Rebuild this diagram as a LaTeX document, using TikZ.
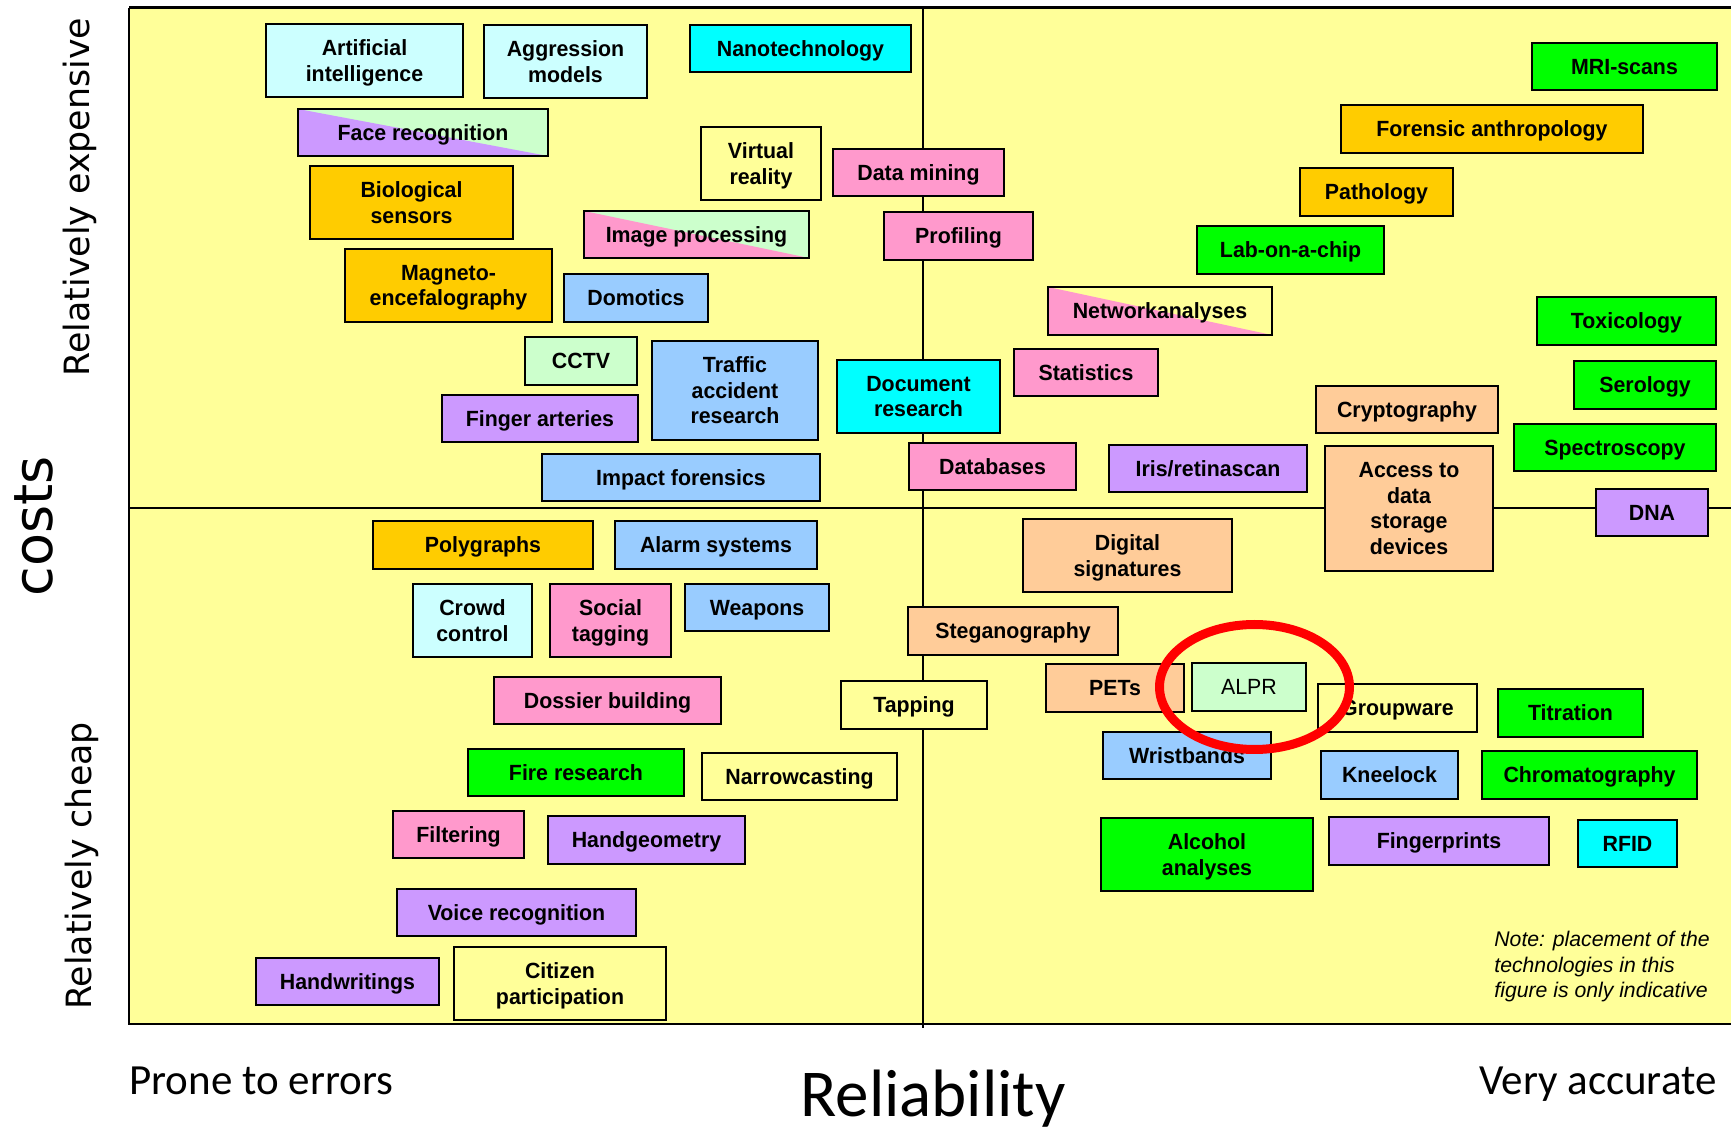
\documentclass[tikz,border=0pt]{standalone}
\usepackage{fontspec}
\usepackage{xcolor}
\usepackage{tikz}
\usetikzlibrary{calc,positioning}

\newfontfamily\boxfont[FakeStretch=0.97]{Liberation Sans}
\newfontfamily\notefont{Liberation Sans}
\newfontfamily\axisfont{Carlito}
\newfontfamily\costfont{DejaVu Sans}

\definecolor{plotyellow}{HTML}{FFFF99}
\definecolor{lightcyan}{HTML}{CCFFFF}
\definecolor{cyanbox}{HTML}{00FFFF}
\definecolor{purplebox}{HTML}{CC99FF}
\definecolor{lightgreen}{HTML}{CCFFCC}
\definecolor{orangebox}{HTML}{FFCC00}
\definecolor{pinkbox}{HTML}{FF99CC}
\definecolor{bluebox}{HTML}{99CCFF}
\definecolor{greenbox}{HTML}{00FF00}
\definecolor{peachbox}{HTML}{FFCC99}
\definecolor{ringred}{HTML}{FF0000}

\tikzset{
  techbox/.style={draw, line width=1pt, inner sep=0pt, align=center, text depth=0pt,
    font=\boxfont\bfseries\fontsize{11}{12.75}\selectfont},
  plainbox/.style={techbox, fill=plotyellow},
  split/.style 2 args={fill=#2, path picture={
      \fill[#1] (path picture bounding box.north west) --
        (path picture bounding box.south east) --
        (path picture bounding box.south west) -- cycle;}},
  sidelabel/.style={rotate=90, anchor=base, inner sep=0pt,
    font=\costfont\fontsize{17.4}{20}\selectfont},
  axislabel/.style={inner sep=0pt, font=\axisfont\fontsize{21.5}{25}\selectfont}
}

% #1 options, #2 name, #3-#6 corners (x1,y1,x2,y2), #7 text
\newcommand{\techbox}[7][]{%
  \node[techbox, #1, minimum width={(#5-#3)*0.5pt}, minimum height={(#6-#4)*0.5pt}]
    (#2) at ({(#3+#5)/2},{(#4+#6)/2}) {#7};}

\begin{document}
\begin{tikzpicture}[x=0.5pt, y=-0.5pt]

\useasboundingbox (0,0) rectangle (1731,1133);

% plot area
\fill[plotyellow] (129,8) rectangle (1731,1024);
\draw[line width=1pt] (1731,1024) -- (129,1024) -- (129,8);
\draw[line width=1.5pt] (129,8) -- (1731,8);
\draw[line width=1pt] (923,8) -- (923,1028); % accuracy split
\draw[line width=1pt] (129,508) -- (1731,508); % cost split

% expensive, prone to errors
\techbox[fill=lightcyan]{ai}{266}{24}{463}{97}{Artificial\\intelligence}
\techbox[fill=lightcyan]{aggression}{484}{25}{647}{98}{Aggression\\models}
\techbox[fill=cyanbox]{nano}{690}{25}{911}{72}{Nanotechnology}
\techbox[split={purplebox}{lightgreen}]{facerec}{298}{109}{548}{156}{Face recognition}
\techbox[plainbox]{virtual}{701}{127}{821}{200}{Virtual\\reality}
\techbox[fill=orangebox]{biosensors}{310}{166}{513}{239}{Biological\\sensors}
\techbox[split={pinkbox}{lightgreen}]{imageproc}{584}{211}{809}{258}{Image processing}
\techbox[fill=orangebox]{meg}{345}{249}{552}{322}{Magneto-\\encefalography}
\techbox[fill=bluebox]{domotics}{564}{274}{708}{322}{Domotics}
\techbox[fill=lightgreen]{cctv}{525}{337}{637}{385}{CCTV}
\techbox[fill=bluebox]{traffic}{652}{341}{818}{440}{Traffic\\accident\\research}
\techbox[fill=purplebox]{fingerart}{442}{395}{638}{442}{Finger arteries}
\techbox[fill=bluebox]{impact}{542}{454}{820}{501}{Impact forensics}

% expensive, very accurate
\techbox[fill=pinkbox]{datamining}{833}{149}{1004}{196}{Data mining}
\techbox[fill=pinkbox]{profiling}{884}{212}{1033}{260}{Profiling}
\techbox[fill=cyanbox]{docresearch}{837}{360}{1000}{433}{Document\\research}
\techbox[fill=greenbox]{mri}{1532}{43}{1717}{90}{MRI-scans}
\techbox[fill=orangebox]{forensicanth}{1341}{105}{1643}{153}{Forensic anthropology}
\techbox[fill=orangebox]{pathology}{1300}{168}{1453}{216}{Pathology}
\techbox[fill=greenbox]{labchip}{1197}{226}{1384}{274}{Lab-on-a-chip}
\techbox[split={pinkbox}{plotyellow}]{network}{1048}{287}{1272}{335}{Networkanalyses}
\techbox[fill=greenbox]{toxicology}{1537}{297}{1716}{345}{Toxicology}
\techbox[fill=pinkbox]{statistics}{1014}{349}{1158}{396}{Statistics}
\techbox[fill=greenbox]{serology}{1574}{361}{1716}{409}{Serology}
\techbox[fill=peachbox]{crypto}{1316}{386}{1498}{433}{Cryptography}
\techbox[fill=greenbox]{spectro}{1514}{424}{1716}{471}{Spectroscopy}
\techbox[fill=pinkbox]{databases}{909}{443}{1076}{490}{Databases}
\techbox[fill=purplebox]{iris}{1109}{445}{1307}{492}{Iris/retinascan}
\techbox[fill=peachbox]{access}{1325}{446}{1493}{571}{Access to\\data\\storage\\devices}
\techbox[fill=purplebox]{dna}{1596}{489}{1708}{536}{DNA}

% cheap, prone to errors
\techbox[fill=orangebox]{polygraphs}{373}{521}{593}{569}{Polygraphs}
\techbox[fill=bluebox]{alarm}{615}{521}{817}{569}{Alarm systems}
\techbox[fill=lightcyan]{crowd}{413}{584}{532}{657}{Crowd\\control}
\techbox[fill=pinkbox]{social}{550}{584}{671}{657}{Social\\tagging}
\techbox[fill=bluebox]{weapons}{685}{584}{829}{631}{Weapons}
\techbox[fill=pinkbox]{dossier}{494}{677}{721}{724}{Dossier building}
\techbox[fill=greenbox]{fire}{468}{749}{684}{796}{Fire research}
\techbox[plainbox]{narrow}{702}{753}{897}{800}{Narrowcasting}
\techbox[fill=pinkbox]{filtering}{393}{811}{524}{858}{Filtering}
\techbox[fill=purplebox]{handgeo}{548}{816}{745}{864}{Handgeometry}
\techbox[fill=purplebox]{voice}{397}{889}{636}{936}{Voice recognition}
\techbox[plainbox]{citizen}{454}{947}{666}{1020}{Citizen\\participation}
\techbox[fill=purplebox]{handwritings}{256}{958}{439}{1005}{Handwritings}

% cheap, very accurate
\techbox[plainbox]{tapping}{841}{681}{987}{729}{Tapping}
\techbox[fill=peachbox]{digsig}{1023}{519}{1232}{592}{Digital\\signatures}
\techbox[fill=peachbox]{steg}{908}{607}{1118}{655}{Steganography}
\techbox[fill=peachbox]{pets}{1046}{664}{1184}{712}{PETs}
\techbox[fill=lightgreen, font=\boxfont\fontsize{11}{12.75}\selectfont]{alpr}{1192}{663}{1306}{711}{ALPR}
\techbox[plainbox]{groupware}{1318}{684}{1477}{732}{Groupware}
\techbox[fill=greenbox]{titration}{1498}{689}{1643}{737}{Titration}
\techbox[fill=bluebox]{wristbands}{1103}{732}{1271}{779}{Wristbands}
\techbox[fill=bluebox]{kneelock}{1321}{751}{1458}{799}{Kneelock}
\techbox[fill=greenbox]{chroma}{1482}{751}{1697}{799}{Chromatography}
\techbox[fill=purplebox]{fingerprints}{1329}{817}{1549}{865}{Fingerprints}
\techbox[fill=greenbox]{alcohol}{1101}{818}{1313}{891}{Alcohol\\analyses}
\techbox[fill=cyanbox]{rfid}{1578}{820}{1677}{867}{RFID}

% ring round ALPR
\draw[ringred, line width=4.5pt] (alpr.center) ++(5.5,0) ellipse (95 and 62.5);

% note
\node[anchor=north west, align=left, inner sep=0pt,
  font=\notefont\itshape\fontsize{10.6}{12.75}\selectfont] (note) at (1494,931)
  {Note: placement of the\\technologies in this\\figure is only indicative};

% axes
\node[sidelabel] (expensive) at (89,197) {Relatively expensive};
\node[sidelabel] (cheap) at (91,866) {Relatively cheap};
\node[sidelabel, font=\costfont\fontsize{27}{32}\selectfont] (costs) at (53,526) {costs};
\node[axislabel, anchor=base west] (prone) at (129,1094) {Prone to errors};
\node[axislabel, anchor=base east] (accurate) at (1717,1094) {Very accurate};
\node[axislabel, anchor=base west, font=\axisfont\fontsize{33.5}{38}\selectfont] (reliability) at (800,1116) {Reliability};

\end{tikzpicture}
\end{document}
